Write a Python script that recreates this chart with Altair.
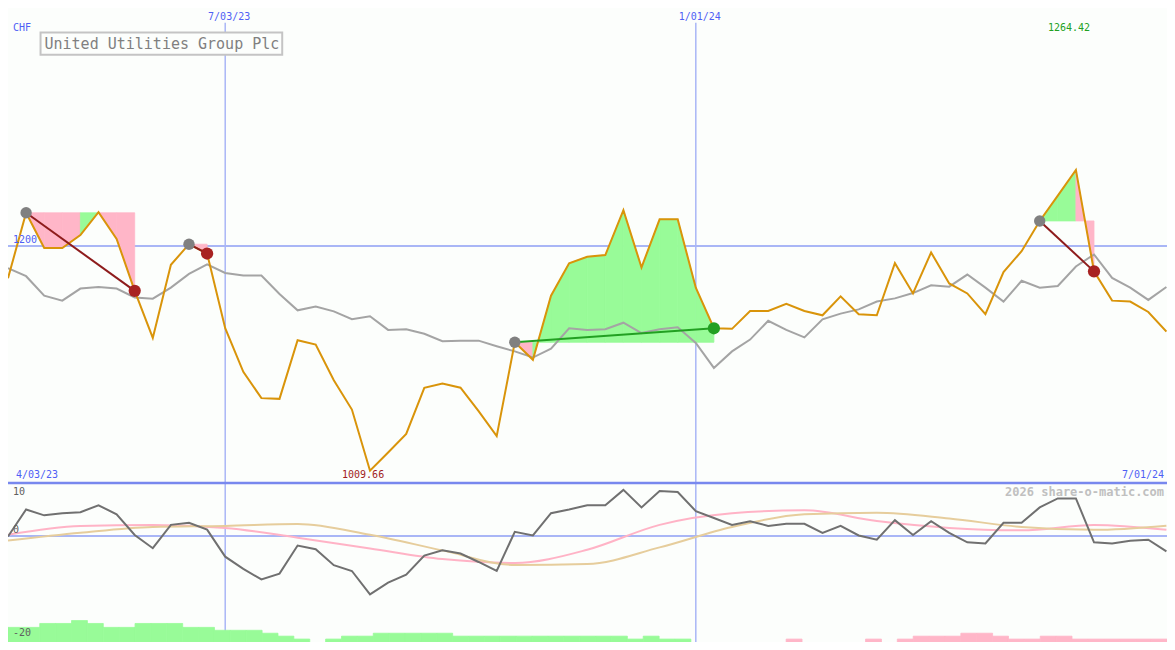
import altair as alt
import pandas as pd

W, H = 1159, 634
SX, SY = W / 1175, H / 650
BG = "#fcfefc"
FONT = "DejaVu Sans Mono"

# weekly closing prices (CHF)
price = [1172.7, 1228.1, 1198.3, 1198.3, 1209.3, 1228.7, 1206.0, 1162.0, 1122.1, 1184.1,
         1201.5, 1193.6, 1130.3, 1093.4, 1071.1, 1070.5, 1120.1, 1116.5, 1086.2, 1061.4,
         1009.66, 1025.1, 1040.8, 1079.8, 1083.5, 1079.9, 1060.1, 1038.9, 1118.4, 1103.6,
         1157.9, 1185.4, 1190.9, 1192.3, 1230.3, 1181.8, 1222.6, 1222.6, 1164.7, 1130.3,
         1129.8, 1144.9, 1144.9, 1151.0, 1144.9, 1141.3, 1157.3, 1142.2, 1141.3, 1185.4,
         1159.8, 1194.5, 1168.3, 1159.8, 1142.2, 1177.9, 1195.6, 1221.2, 1242.6, 1264.42,
         1178.5, 1153.7, 1152.9, 1144.1, 1127.5]

# comparison (grey) line
avg = [1181.2, 1174.4, 1157.9, 1153.7, 1163.9, 1165.3, 1163.9, 1156.4, 1155.4, 1164.7,
       1176.3, 1184.5, 1177.1, 1175.0, 1175.0, 1159.3, 1145.5, 1148.8, 1144.6, 1138.0,
       1140.5, 1128.9, 1129.5, 1125.6, 1119.3, 1119.8, 1119.8, 1115.1, 1110.7, 1105.5,
       1113.0, 1130.3, 1128.9, 1129.5, 1135.0, 1126.2, 1129.5, 1131.2, 1117.9, 1096.7,
       1110.7, 1120.7, 1136.6, 1128.9, 1122.6, 1137.8, 1142.7, 1146.3, 1152.9, 1155.6,
       1160.1, 1166.7, 1165.5, 1175.8, 1164.7, 1152.9, 1170.5, 1164.7, 1166.1, 1182.6,
       1192.8, 1173.0, 1164.7, 1154.3, 1165.3]

# lower panel: momentum (dark grey)
mom = [-0.1, 5.0, 3.9, 4.3, 4.5, 5.8, 4.1, 0.2, -2.3, 2.1,
       2.5, 1.2, -3.9, -6.2, -8.2, -7.1, -1.8, -2.5, -5.5, -6.6,
       -11.0, -8.8, -7.3, -3.7, -2.7, -3.3, -4.9, -6.6, 0.8, 0.1,
       4.3, 5.0, 5.8, 5.8, 8.7, 5.4, 8.5, 8.3, 4.7, 3.4,
       2.1, 2.8, 1.9, 2.3, 2.3, 0.6, 1.9, 0.1, -0.7, 3.0,
       0.2, 2.8, 0.6, -1.2, -1.4, 2.5, 2.5, 5.4, 7.1, 7.1,
       -1.2, -1.4, -0.9, -0.7, -2.9]

# smooth indicator lines (sampled every 4 weeks)
smooth_idx = [0, 4, 8, 12, 16, 20, 24, 28, 32, 36, 40, 44, 48, 52, 56, 60, 64]
pink_vals = [0.24, 1.90, 2.08, 1.53, -0.31, -2.34, -4.36, -5.10, -2.6, 2.1, 4.29, 4.84, 2.82, 1.53, 1.07, 2.08, 1.16]
tan_vals = [-0.87, 0.61, 1.71, 1.90, 2.27, 0.24, -2.71, -5.47, -5.29, -2.15, 1.71, 4.1, 4.4, 3.3, 1.7, 1.16, 1.95]

# bottom flow bars (positive = green, negative = pink)
flow = [15, 15, 19, 19, 22, 19, 15, 15, 19, 19,
        19, 15, 15, 12, 12, 12, 9, 6, 3, 0,
        3, 6, 6, 9, 9, 9, 9, 9, 6, 6,
        6, 6, 6, 6, 6, 6, 6, 6, 6, 3,
        6, 3, 3, 0, 0, 0, 0, 0, 0, -3,
        0, 0, 0, 0, -3, 0, -3, -6, -6, -6,
        -9, -9, -6, -3, -3, -6, -6, -3, -3, -3,
        -3, -3, -3]

# trades: (start week, end week)
trades = [(1, 7), (10, 11), (28, 39), (57, 60)]

date_idx = [12, 38]
date_labels = ["7/03/23", "1/01/24"]
start_label, end_label = "4/03/23", "7/01/24"
title_text = "United Utilities Group Plc"

GREEN_FILL = "#98fb98"
PINK_FILL = "#ffb6c8"
ORANGE = "#d9940a"
GREY = "#a4a4a4"
BLUE_TXT = "#4f5ff5"
RULE = "#a9b6f6"

xs = alt.Scale(domain=[0, 1175 / 18.35], range=[0, W], nice=False, zero=False)
ps = alt.Scale(domain=[999.2, 1401.6], range=[487 * SY, 0], nice=False, zero=False)
ls = alt.Scale(domain=[-20, 10], range=[650 * SY, 487 * SY], nice=False, zero=False)
bxs = alt.Scale(domain=[0, 1175 / 16.1], range=[0, W], nice=False, zero=False)
bys = alt.Scale(domain=[0, 163], range=[650 * SY, 487 * SY], nice=False, zero=False)

df = pd.DataFrame({"idx": list(range(len(price))), "price": price, "avg": avg, "mom": mom})
X = alt.X("idx:Q", scale=xs, axis=None)
one = pd.DataFrame({"a": [0]})

# trade fill segments
seg_rows, line_rows, start_rows, end_rows = [], [], [], []
for t, (s, e) in enumerate(trades):
    lvl = price[s]
    for i in range(s, e):
        col = GREEN_FILL if price[i + 1] >= lvl else PINK_FILL
        for j in (i, i + 1):
            seg_rows.append({"seg": f"{t}-{i}", "idx": j, "p": price[j], "lvl": lvl, "c": col})
    gain = price[e] > price[s]
    lc = "#22a022" if gain else "#8e1c1c"
    dc = "#22a022" if gain else "#a82222"
    line_rows += [{"t": t, "idx": s, "p": price[s], "c": lc}, {"t": t, "idx": e, "p": price[e], "c": lc}]
    start_rows.append({"idx": s, "p": price[s]})
    end_rows.append({"idx": e, "p": price[e], "c": dc})

seg_df = pd.DataFrame(seg_rows)
line_df = pd.DataFrame(line_rows)
start_df = pd.DataFrame(start_rows)
end_df = pd.DataFrame(end_rows)

dates_df = pd.DataFrame({"idx": date_idx, "lab": date_labels})

vrules = alt.Chart(dates_df).mark_rule(color=RULE, strokeWidth=1.5).encode(
    x=X, y=alt.value(15 * SY), y2=alt.value(H))
date_text = alt.Chart(dates_df).mark_text(font=FONT, fontSize=10, color=BLUE_TXT, dx=4 * SX,
                                          align="center", baseline="middle").encode(
    x=X, y=alt.value(9 * SY), text="lab:N")

h1200 = alt.Chart(one).mark_rule(color=RULE, strokeWidth=2).encode(
    y=alt.YDatum(1200, type="quantitative", scale=ps, axis=None), x=alt.value(0), x2=alt.value(W))
zero_line = alt.Chart(one).mark_rule(color=RULE, strokeWidth=2).encode(
    y=alt.YDatum(0, type="quantitative", scale=ls, axis=None), x=alt.value(0), x2=alt.value(W))
sep_line = alt.Chart(one).mark_rule(color="#7888ee", strokeWidth=2.5).encode(
    y=alt.YDatum(10, type="quantitative", scale=ls, axis=None), x=alt.value(0), x2=alt.value(W))

fills = alt.Chart(seg_df).mark_area(opacity=1, strokeWidth=0.8).encode(
    x=X, y=alt.Y("p:Q", scale=ps, axis=None), y2="lvl:Q", detail="seg:N",
    color=alt.Color("c:N", scale=None), stroke=alt.Stroke("c:N", scale=None))

bars_df = pd.DataFrame({"bin": list(range(len(flow))), "flow": flow})
bars_df = bars_df[bars_df["flow"] != 0]
bars = alt.Chart(bars_df).transform_calculate(
    bin2="datum.bin + 1", mag="abs(datum.flow)",
    c=f"datum.flow > 0 ? '{GREEN_FILL}' : '{PINK_FILL}'").mark_rect(strokeWidth=0.8).encode(
    x=alt.X("bin:Q", scale=bxs, axis=None), x2="bin2:Q",
    y=alt.Y("mag:Q", scale=bys, axis=None), y2=alt.datum(0),
    color=alt.Color("c:N", scale=None), stroke=alt.Stroke("c:N", scale=None))

sm_df = pd.DataFrame({"idx": smooth_idx, "pink": pink_vals, "tan": tan_vals})
pink_line = alt.Chart(sm_df).mark_line(color="#ffb3c6", strokeWidth=2, interpolate="monotone").encode(
    x=X, y=alt.Y("pink:Q", scale=ls, axis=None))
tan_line = alt.Chart(sm_df).mark_line(color="#e6cd9c", strokeWidth=2, interpolate="monotone").encode(
    x=X, y=alt.Y("tan:Q", scale=ls, axis=None))
mom_line = alt.Chart(df).mark_line(color="#707070", strokeWidth=2).encode(
    x=X, y=alt.Y("mom:Q", scale=ls, axis=None))

avg_line = alt.Chart(df).mark_line(color=GREY, strokeWidth=2).encode(
    x=X, y=alt.Y("avg:Q", scale=ps, axis=None))
price_line = alt.Chart(df).mark_line(color=ORANGE, strokeWidth=2).encode(
    x=X, y=alt.Y("price:Q", scale=ps, axis=None))

trade_lines = alt.Chart(line_df).mark_line(strokeWidth=2).encode(
    x=X, y=alt.Y("p:Q", scale=ps, axis=None), detail="t:N", color=alt.Color("c:N", scale=None))
start_dots = alt.Chart(start_df).mark_circle(size=130, opacity=1, color="#808080").encode(
    x=X, y=alt.Y("p:Q", scale=ps, axis=None))
end_dots = alt.Chart(end_df).mark_circle(size=150, opacity=1).encode(
    x=X, y=alt.Y("p:Q", scale=ps, axis=None), color=alt.Color("c:N", scale=None))

box = alt.Chart(one).mark_rect(fill=BG, stroke="#c4c4c4", strokeWidth=2).encode(
    x=alt.value(33 * SX), x2=alt.value(278 * SX), y=alt.value(25 * SY), y2=alt.value(48 * SY))


def label(text, x, y, color, size=10, align="left", baseline="middle", weight="normal"):
    return alt.Chart(one).mark_text(text=text, font=FONT, fontSize=size, color=color, align=align,
                                    baseline=baseline, fontWeight=weight).encode(
        x=alt.value(x * SX), y=alt.value(y * SY))


title = label(title_text, 37, 37, "#808080", size=15)
chf = label("CHF", 5, 21, BLUE_TXT)
lab_start = label(start_label, 8, 479, BLUE_TXT)
lab_end = label(end_label, 1172, 479, BLUE_TXT, align="right")
brand = label("2026 share-o-matic.com", 1172, 496, "#c0c0c0", size=12, align="right", weight="bold")
l10 = label("10", 5, 496, "#606060")
l0 = label("0", 5, 535, "#606060")
lm20 = label("-20", 5, 641, "#606060")

p1200 = alt.Chart(one).mark_text(text="1200", font=FONT, fontSize=10, color=BLUE_TXT, align="left",
                                 baseline="bottom", dy=-1).encode(
    x=alt.value(5 * SX), y=alt.YDatum(1200, type="quantitative", scale=ps, axis=None))

imax = price.index(max(price))
imin = price.index(min(price))
ext_df = pd.DataFrame({"idx": [imax, imin], "lab": [f"{max(price):.2f}", f"{min(price):.2f}"],
                       "ypix": [21 * SY, 479 * SY], "c": ["#22a022", "#a01c1c"]})
ext_text = alt.Chart(ext_df).mark_text(font=FONT, fontSize=10, align="center", baseline="middle",
                                       dx=-7 * SX).encode(
    x=X, y=alt.Y("ypix:Q", scale=None), text="lab:N", color=alt.Color("c:N", scale=None))

chart = alt.layer(
    vrules, h1200, zero_line, sep_line, fills, bars, pink_line, tan_line, mom_line,
    avg_line, price_line, trade_lines, start_dots, end_dots, box,
    title, chf, date_text, lab_start, lab_end, brand, l10, l0, lm20, p1200, ext_text
).resolve_scale(x="independent", y="independent").properties(
    width=W, height=H, background=BG, padding=0,
    autosize=alt.AutoSizeParams(type="none")
).configure_view(strokeWidth=0)

chart.save("out.html", embed_options={"renderer": "svg", "actions": False})
